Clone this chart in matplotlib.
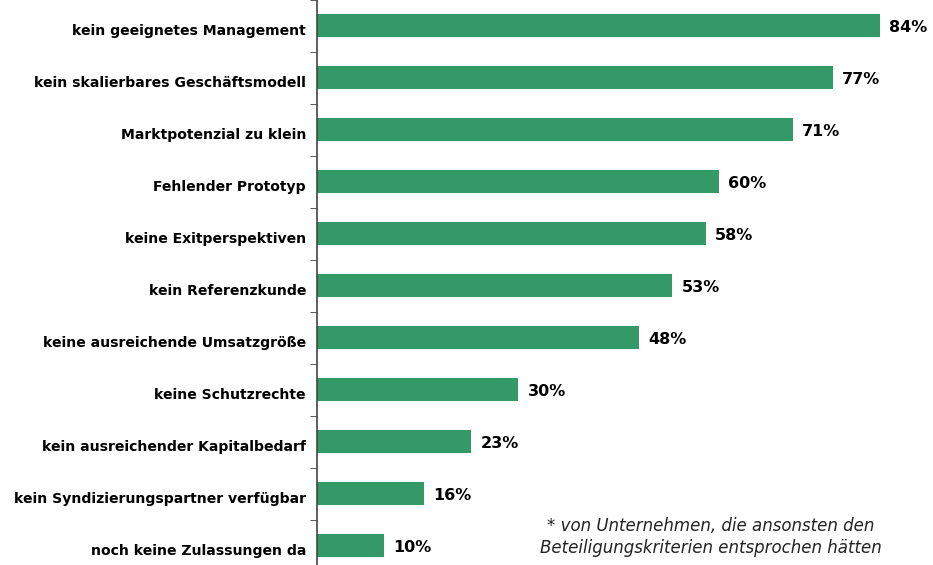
import numpy as np
import matplotlib.pyplot as plt
import matplotlib.transforms as mtransforms

# categories and shares (in %), top to bottom
categories = [
    'kein geeignetes Management',
    'kein skalierbares Geschäftsmodell',
    'Marktpotenzial zu klein',
    'Fehlender Prototyp',
    'keine Exitperspektiven',
    'kein Referenzkunde',
    'keine ausreichende Umsatzgröße',
    'keine Schutzrechte',
    'kein ausreichender Kapitalbedarf',
    'kein Syndizierungspartner verfügbar',
    'noch keine Zulassungen da',
]
values = [84, 77, 71, 60, 58, 53, 48, 30, 23, 16, 10]
value_labels = [f'{v}%' for v in values]
footnote = '* von Unternehmen, die ansonsten den\nBeteiligungskriterien entsprochen hätten'

W, H = 933, 565
fig = plt.figure(figsize=(W / 100, H / 100), dpi=100)

# axes spans a little past the figure edges (chart is cropped)
left, right = 317, 933
top, bottom = -0.5, 571.5
ax = fig.add_axes([left / W, (H - bottom) / H, (right - left) / W, (bottom - top) / H])

y = np.arange(len(categories))
ax.barh(y, values, height=0.46, color='#339966', zorder=2)

ax.set_ylim(len(categories) - 0.5, -0.5)
ax.set_xlim(0, (right - left) / 6.7)

for yi, v, lab in zip(y, values, value_labels):
    ax.text(v + 1.4, yi + 0.03, lab, va='center', ha='left',
            fontsize=11.5, fontweight='bold', color='black', family='DejaVu Sans')

# category labels
ax.set_yticks(y)
ax.set_yticklabels(categories, fontsize=10.1, fontweight='bold', family='DejaVu Sans')
ax.tick_params(axis='y', which='major', length=0, pad=8)
shift = mtransforms.ScaledTranslation(0, -4 / 100, fig.dpi_scale_trans)
for t in ax.get_yticklabels():
    t.set_transform(t.get_transform() + shift)
# boundary ticks between categories
ax.set_yticks(np.arange(len(categories) + 1) - 0.5, minor=True)
ax.tick_params(axis='y', which='minor', length=5, color='#444444', direction='out')

ax.set_xticks([])
for s in ['top', 'right', 'bottom']:
    ax.spines[s].set_visible(False)
ax.spines['left'].set_color('#444444')
ax.spines['left'].set_linewidth(1.2)

fig.text(711 / W, 1 - 537 / H, footnote, ha='center', va='center',
         fontsize=12, style='italic', color='#222222', linespacing=1.3,
         family='DejaVu Sans')

fig.savefig('out.png', dpi=100)
